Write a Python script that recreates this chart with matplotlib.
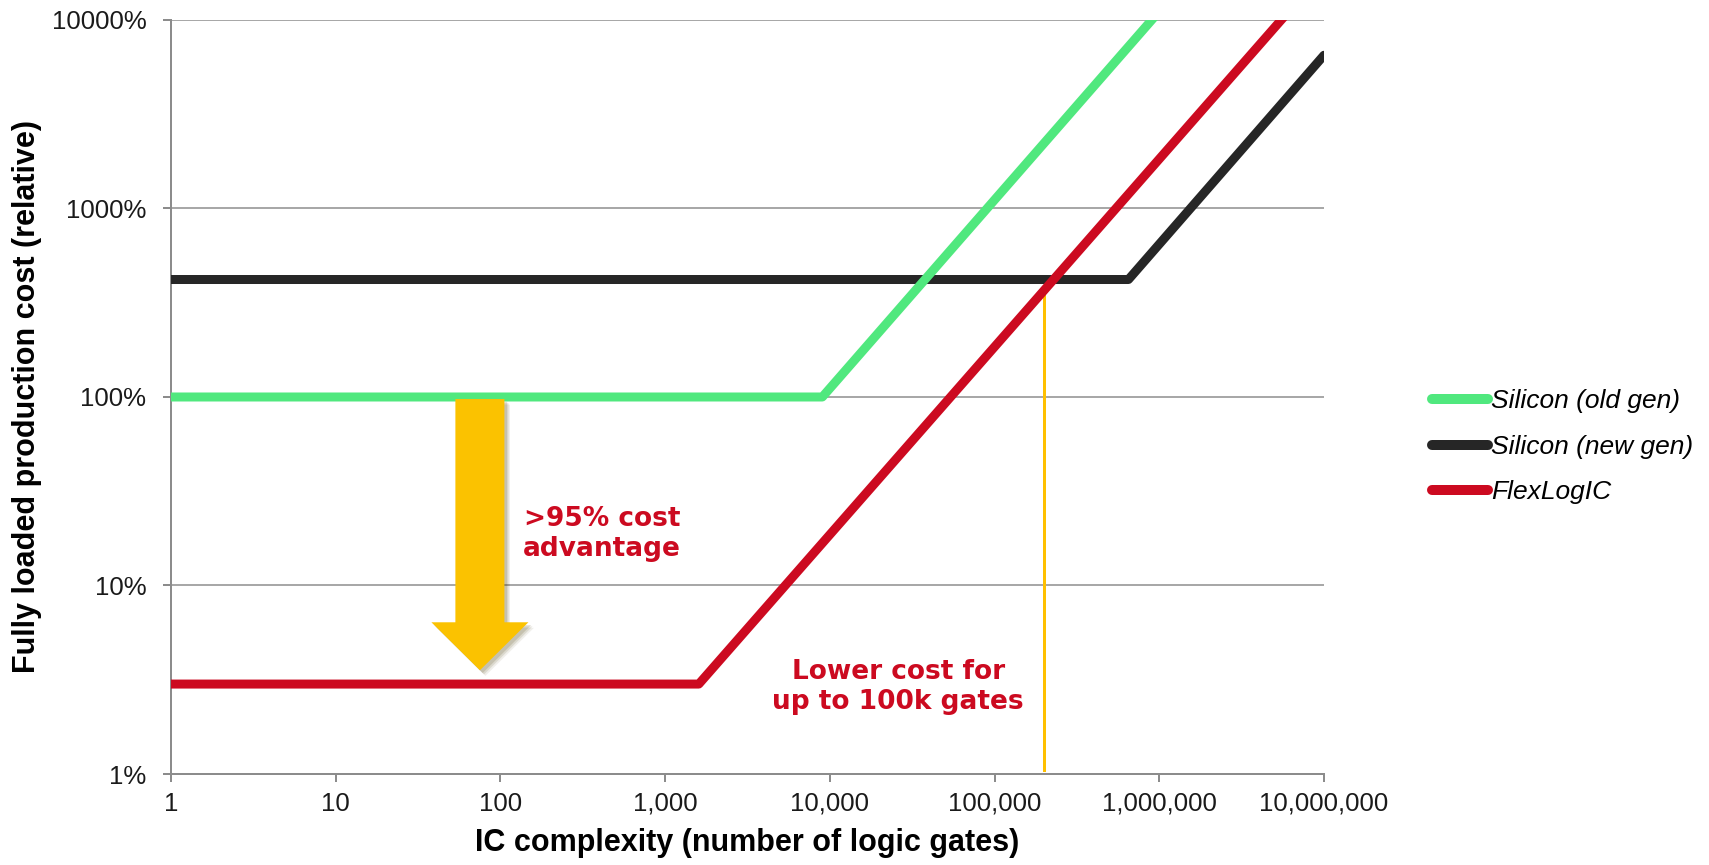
import matplotlib
matplotlib.use("Agg")
import matplotlib.pyplot as plt
import matplotlib.patheffects as pe
from matplotlib.ticker import FixedLocator, FuncFormatter, NullLocator

# datos (costo en %)
gates_old = [1, 9000, 900000]
cost_old = [100, 100, 10000]
gates_new = [1, 650000, 1e7]
cost_new = [420, 420, 6500]
gates_flex = [1, 1600, 5.5e6]
cost_flex = [3, 3, 10000]

series_names = ["Silicon (old gen)", "Silicon (new gen)", "FlexLogIC"]

x_ticks = [1, 10, 100, 1000, 10000, 100000, 1000000, 10000000]
y_ticks = [1, 10, 100, 1000, 10000]

cutoff_gates = 200000
cutoff_cost = [1.05, 350]

arrow_gates = 75
arrow_from = 97.5
arrow_to = 3.55

GREEN = "#50E87E"
BLACK = "#262626"
RED = "#CC0A20"
YELLOW = "#FBC200"
GRID = "#8C8C8C"

DPI = 100
px = 72.0 / DPI  # pixeles -> puntos

fig = plt.figure(figsize=(17.09, 8.65), dpi=DPI)
ax = fig.add_axes([0.1001, 0.1052, 0.6746, 0.8717])

ax.set_xscale("log")
ax.set_yscale("log")
ax.set_xlim(1, 1e7)
ax.set_ylim(1, 10000)

lw = 9 * px
ln_new, = ax.plot(gates_new, cost_new, color=BLACK, lw=lw, solid_joinstyle="round",
                  solid_capstyle="round", zorder=3)
ln_old, = ax.plot(gates_old, cost_old, color=GREEN, lw=lw, solid_joinstyle="round", zorder=4)
ln_flex, = ax.plot(gates_flex, cost_flex, color=RED, lw=lw, solid_joinstyle="round", zorder=5)

# linea vertical amarilla
ax.plot([cutoff_gates, cutoff_gates], cutoff_cost, color="#FFC000", lw=3 * px, zorder=2)

# flecha amarilla con sombra
sombra = [pe.SimplePatchShadow(offset=(o, -o), alpha=a) for o, a in [(4, 0.08), (3, 0.12), (2, 0.15)]]
ax.annotate("", xy=(arrow_gates, arrow_to), xytext=(arrow_gates, arrow_from),
            arrowprops=dict(arrowstyle="simple,head_length=%.2f,head_width=%.2f,tail_width=%.2f"
                            % (48 * px, 97 * px, 49 * px),
                            mutation_scale=1, shrinkA=0, shrinkB=0,
                            fc=YELLOW, ec="none",
                            path_effects=sombra + [pe.Normal()]),
            zorder=6)

ax.text(arrow_gates * 5.5, 18.8, ">95% cost\nadvantage", color=RED, fontsize=19,
        fontweight="bold", family="DejaVu Sans", ha="center", va="center",
        linespacing=1.22, zorder=7)
ax.text(26000, 2.9, "Lower cost for\nup to 100k gates", color=RED, fontsize=19,
        fontweight="bold", family="DejaVu Sans", ha="center", va="center",
        linespacing=1.22, zorder=7)

# ejes
ax.xaxis.set_major_locator(FixedLocator(x_ticks))
ax.xaxis.set_minor_locator(NullLocator())
ax.yaxis.set_major_locator(FixedLocator(y_ticks))
ax.yaxis.set_minor_locator(NullLocator())
ax.xaxis.set_major_formatter(FuncFormatter(lambda v, p: "{:,}".format(int(round(v)))))
ax.yaxis.set_major_formatter(FuncFormatter(lambda v, p: "%d%%" % int(round(v))))

ax.grid(True, axis="y", color=GRID, lw=1.5 * px)
ax.set_axisbelow(True)
for s in ["top", "right"]:
    ax.spines[s].set_visible(False)
for s in ["left", "bottom"]:
    ax.spines[s].set_color(GRID)
    ax.spines[s].set_linewidth(2 * px)

ax.tick_params(axis="both", direction="out", length=8 * px, width=2 * px, color=GRID,
               labelsize=18.5, labelcolor="#1A1A1A")
ax.tick_params(axis="y", pad=12)
ax.tick_params(axis="x", pad=7)
for lab in ax.get_xticklabels() + ax.get_yticklabels():
    lab.set_family("Liberation Sans")

ax.set_xlabel("IC complexity (number of logic gates)", fontsize=22, fontweight="bold",
              family="Liberation Sans", labelpad=9)
ax.set_ylabel("Fully loaded production cost (relative)", fontsize=22, fontweight="bold",
              family="Liberation Sans", labelpad=7)

leg = ax.legend([ln_old, ln_new, ln_flex], series_names, loc="center left",
                bbox_to_anchor=(1.0735, 0.434), frameon=False,
                prop=dict(family="Liberation Sans", style="italic", size=19),
                handlelength=2.1, handletextpad=0.12, labelspacing=0.82)
for h in leg.get_lines():
    h.set_linewidth(10 * px)
    h.set_solid_capstyle("round")

fig.savefig("out.png", dpi=DPI)
